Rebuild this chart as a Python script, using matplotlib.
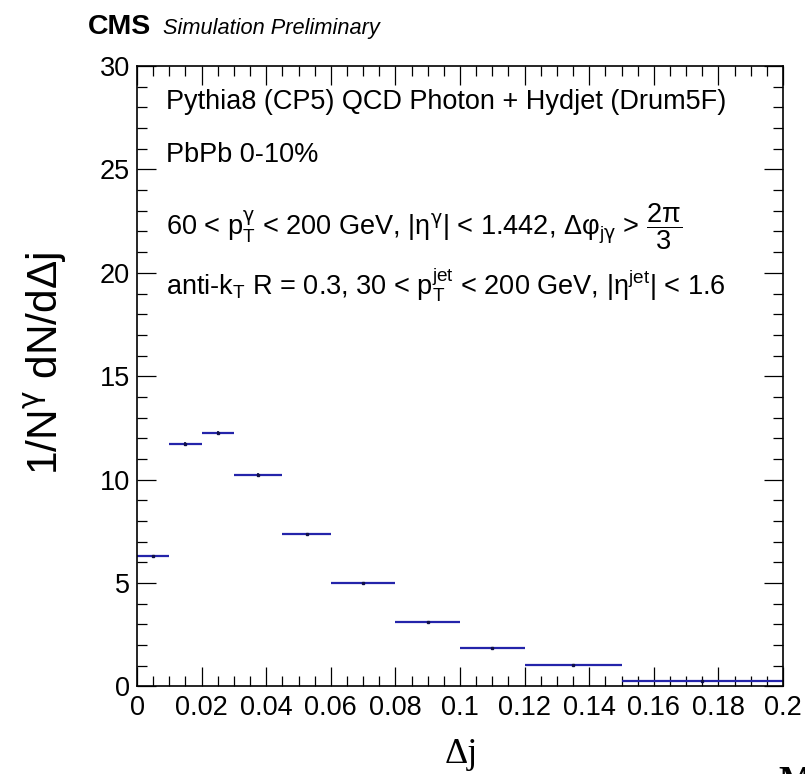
import matplotlib
matplotlib.use("Agg")
import matplotlib.pyplot as plt
import numpy as np
from matplotlib.ticker import MultipleLocator, FormatStrFormatter

# bin edges and content
bin_edges = [0.0, 0.01, 0.02, 0.03, 0.045, 0.06, 0.08, 0.10, 0.12, 0.15, 0.20]
values = [6.30, 11.74, 12.26, 10.23, 7.38, 5.01, 3.10, 1.86, 1.02, 0.28]
errors = [0.08, 0.10, 0.10, 0.08, 0.06, 0.05, 0.04, 0.03, 0.02, 0.01]

plt.rcParams['font.family'] = ['Liberation Sans', 'DejaVu Sans']
plt.rcParams['mathtext.fontset'] = 'custom'
plt.rcParams['mathtext.rm'] = 'Liberation Sans'
plt.rcParams['mathtext.it'] = 'Liberation Sans:italic'
plt.rcParams['mathtext.bf'] = 'Liberation Sans:bold'
plt.rcParams['mathtext.sf'] = 'DejaVu Sans'   # greek gamma, symbol-like
plt.rcParams['mathtext.default'] = 'regular'

fig = plt.figure(figsize=(8.05, 7.74), dpi=100)
ax = fig.add_axes([0.1702, 0.1131, 0.8025, 0.8016])

edges = np.array(bin_edges)
centers = 0.5 * (edges[:-1] + edges[1:])
line_col = '#2424aa'

ax.hlines(values, edges[:-1], edges[1:], colors=line_col, linewidth=1.6)
ax.errorbar(centers, values, yerr=errors, fmt='none', ecolor='#10104a',
            elinewidth=1.2, capsize=0)
ax.plot(centers, values, 's', ms=1.5, color='#10104a')

ax.set_xlim(0, 0.2)
ax.set_ylim(0, 30)

ax.xaxis.set_major_locator(MultipleLocator(0.02))
ax.xaxis.set_minor_locator(MultipleLocator(0.005))
ax.xaxis.set_major_formatter(FormatStrFormatter('%g'))
ax.yaxis.set_major_locator(MultipleLocator(5))
ax.yaxis.set_minor_locator(MultipleLocator(1))

ax.tick_params(which='both', direction='in', top=True, right=True,
               labelsize=19.5, width=0.9, color='black')
ax.tick_params(which='major', length=13.5)
ax.tick_params(which='minor', length=7)
ax.tick_params(axis='x', pad=6)
ax.tick_params(axis='y', pad=5)
for s in ax.spines.values():
    s.set_linewidth(1.2)

g = '$\\mathsf{γ}$'

# labels
fig.text(0.057, 0.531, '1/N$^{\\mathsf{γ}}$ dN/dΔj', rotation=90, fontsize=30.5,
         ha='center', va='center')
fig.text(0.5727, 0.014, 'Δj', fontsize=26, family='Liberation Serif',
         ha='center', va='baseline')
fig.text(0.9665, 0.0103, 'M', fontsize=26, family='Liberation Serif',
         fontweight='bold', ha='left', va='top')

# CMS header
fig.text(0.1093, 0.956, 'CMS', fontsize=20.5, fontweight='bold', va='baseline')
fig.text(0.2025, 0.956, 'Simulation Preliminary', fontsize=15.7,
         style='italic', va='baseline')

# info text inside the frame
tx = 0.045
ax.text(tx, 0.931, 'Pythia8 (CP5) QCD Photon + Hydjet (Drum5F)',
        transform=ax.transAxes, fontsize=19.5, va='baseline')
ax.text(tx, 0.845, 'PbPb 0-10%', transform=ax.transAxes, fontsize=19.5,
        va='baseline')
ax.text(tx, 0.727,
        '60 < p$_{T}^{\\mathsf{γ}}$ < 200 GeV, |η$^{\\mathsf{γ}}$| < 1.442, '
        'Δφ$_{j\\mathsf{γ}}$ > $\\dfrac{2π}{3}$',
        transform=ax.transAxes, fontsize=19.5, va='baseline')
ax.text(tx, 0.632,
        'anti-k$_{T}$ R = 0.3, 30 < p$_{T}^{jet}$ < 200 GeV, |η$^{jet}$| < 1.6',
        transform=ax.transAxes, fontsize=19.5, va='baseline')

fig.savefig('out.png', dpi=100)
